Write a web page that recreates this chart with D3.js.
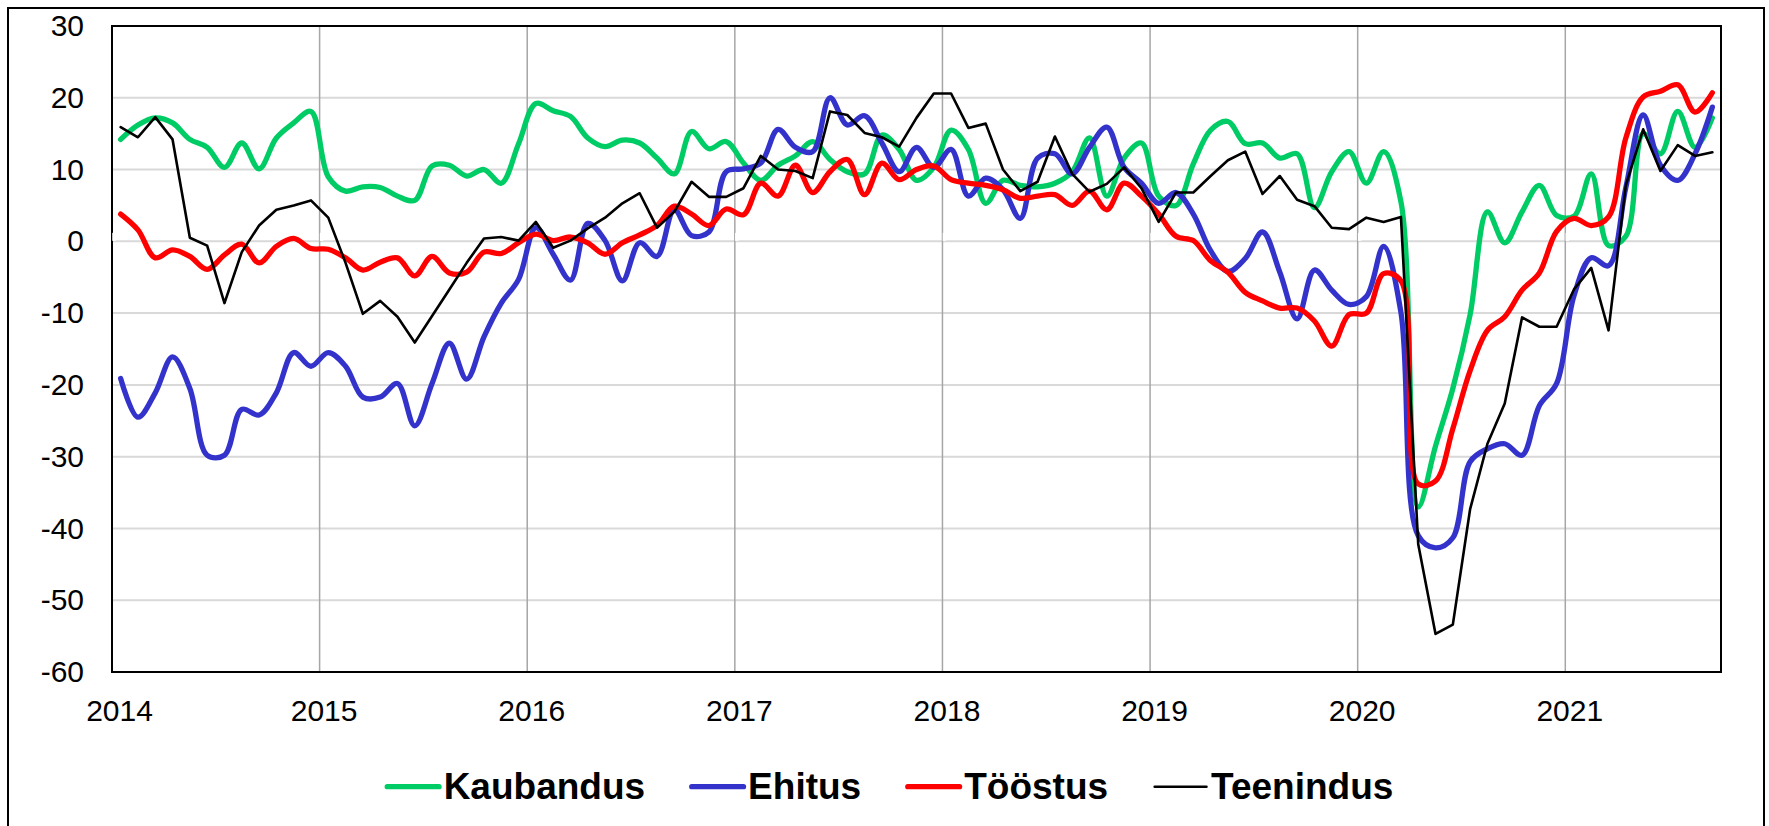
<!DOCTYPE html>
<html>
<head>
<meta charset="utf-8">
<script src="https://cdn.jsdelivr.net/npm/d3@7"></script>
<style>
body{margin:0;background:#fff;}
svg{display:block;font-family:Arial,"Liberation Sans",sans-serif;}
</style>
</head>
<body>
<svg id="chart"></svg>
<script>
// monthly values, Jan 2014 .. Sep 2021
var startYear = 2014;
var yearTicks = [2014,2015,2016,2017,2018,2019,2020,2021];
var yTicks = [30,20,10,0,-10,-20,-30,-40,-50,-60];
var seriesNames = ["Kaubandus","Ehitus","Tööstus","Teenindus"];
var seriesColors = ["#00cc66","#3333cc","#ff0000","#000000"];

var kaubandus = [14.2,16.2,17.2,16.5,14.2,13.1,10.3,13.7,10.1,14.4,16.5,18.1,
  9.0,7.0,7.6,7.5,6.3,5.7,10.5,10.6,9.1,10.0,8.1,13.6,
  19.2,18.2,17.4,14.4,13.2,14.1,13.7,11.6,9.4,15.3,12.9,13.9,
  10.9,8.5,10.6,11.9,13.9,11.4,9.7,9.4,14.8,12.8,8.5,10.3,
  15.5,12.8,5.3,8.5,7.8,7.6,8.1,9.7,14.4,6.3,11.6,13.7,
  6.3,5.0,10.8,15.5,16.7,13.6,13.7,11.6,12.2,4.7,9.7,12.5,
  8.1,12.5,5.5,-37.0,-28.5,-20.5,-10.2,4.1,-0.2,4.1,7.8,3.6,
  3.5,9.4,-0.6,0.7,15.0,12.2,18.1,13.1,17.2];

var ehitus = [-19.1,-24.5,-21.1,-16.1,-20.5,-29.8,-29.8,-23.4,-24.2,-21.1,-15.5,-17.4,
  -15.5,-17.4,-21.7,-21.7,-19.8,-25.7,-19.8,-14.2,-19.2,-13.3,-8.6,-5.3,
  1.9,-1.8,-5.4,2.5,0.1,-5.5,-0.2,-2.1,4.4,0.8,1.3,9.7,
  10.1,10.9,15.6,13.1,12.5,20.0,16.2,17.5,13.7,9.7,13.1,10.3,
  12.8,6.3,8.8,7.2,3.2,11.6,12.2,9.4,13.1,15.9,10.3,8.1,
  5.3,6.8,3.8,-1.3,-4.2,-2.4,1.3,-4.3,-10.8,-4.0,-6.8,-8.8,
  -7.7,-0.7,-9.9,-41.0,-42.7,-41.3,-30.7,-28.9,-28.2,-29.8,-22.9,-19.8,
  -7.6,-2.3,-3.4,7.5,17.6,10.6,8.5,12.2,18.7];

var toostus = [3.8,1.6,-2.3,-1.2,-2.1,-3.9,-1.9,-0.4,-3.0,-0.7,0.4,-1.0,
  -1.1,-2.3,-4.0,-2.9,-2.3,-4.8,-2.1,-4.4,-4.3,-1.5,-1.7,-0.2,
  1.0,0.1,0.6,-0.2,-1.8,-0.2,0.9,2.2,4.9,3.8,2.2,4.5,
  3.7,8.1,6.3,10.6,6.8,9.7,11.4,6.5,10.9,8.6,10.0,10.5,
  8.6,8.1,7.8,7.2,6.0,6.3,6.5,5.0,7.0,4.4,8.1,6.3,
  3.8,0.7,0.1,-2.7,-4.3,-7.1,-8.3,-9.3,-9.3,-11.1,-14.6,-10.2,
  -10.0,-4.5,-5.5,-33.8,-33.4,-26.1,-18.0,-12.4,-10.5,-6.8,-4.4,1.4,
  3.2,2.2,3.4,14.4,20.1,20.9,21.8,18.0,20.7];

var teenindus = [15.9,14.5,17.3,14.2,0.5,-0.6,-8.6,-1.5,2.2,4.4,5.0,5.7,
  3.3,-3.0,-10.1,-8.3,-10.5,-14.1,-10.4,-6.7,-3.0,0.4,0.6,0.1,
  2.7,-0.9,0.1,1.8,3.3,5.3,6.7,1.9,4.1,8.3,6.2,6.2,
  7.4,11.9,10.0,9.8,8.8,18.1,17.6,15.1,14.5,13.2,17.2,20.6,
  20.6,15.8,16.4,10.0,7.0,8.3,14.6,9.4,6.9,8.0,10.3,7.4,
  2.7,6.8,6.8,9.1,11.3,12.5,6.6,9.1,5.8,4.9,1.9,1.7,
  3.3,2.7,3.4,-42.2,-54.7,-53.4,-37.3,-28.2,-22.6,-10.6,-11.9,-11.9,
  -6.7,-3.7,-12.4,7.8,15.6,9.8,13.4,11.9,12.4];

var drawChart = function()
{
    var screen = {width:1769,height:826};
    var plot = {left:112,right:1721,top:26,bottom:672};

    var svg = d3.select("#chart")
        .attr("width",screen.width)
        .attr("height",screen.height);

    // outer frame (bottom edge sits below the picture)
    svg.append("rect")
        .attr("x",8).attr("y",8)
        .attr("width",1756).attr("height",830)
        .attr("fill","none")
        .attr("stroke","#000")
        .attr("stroke-width",2);

    var x = d3.scaleLinear()
        .domain([startYear,2021.75])
        .range([plot.left,plot.right]);

    var y = d3.scaleLinear()
        .domain([-60,30])
        .range([plot.bottom,plot.top]);

    var monthX = function(d,i){ return x(startYear + (i+0.5)/12); };

    //grid
    svg.append("g")
        .selectAll("line")
        .data(yTicks.slice(1,-1))
        .enter()
        .append("line")
        .attr("x1",plot.left).attr("x2",plot.right)
        .attr("y1",function(d){return y(d);})
        .attr("y2",function(d){return y(d);})
        .attr("stroke","#d9d9d9")
        .attr("stroke-width",2);

    svg.append("g")
        .selectAll("line")
        .data(yearTicks.slice(1))
        .enter()
        .append("line")
        .attr("x1",function(d){return x(d);})
        .attr("x2",function(d){return x(d);})
        .attr("y1",plot.top).attr("y2",plot.bottom)
        .attr("stroke","#a6a6a6")
        .attr("stroke-width",1.5);

    svg.append("rect")
        .attr("x",plot.left).attr("y",plot.top)
        .attr("width",plot.right-plot.left)
        .attr("height",plot.bottom-plot.top)
        .attr("fill","none")
        .attr("stroke","#000")
        .attr("stroke-width",2);

    // white tick marks of the axis crossing at zero
    var zeroAxis = svg.append("g")
        .attr("transform","translate(1.5,"+(y(0)-0.5)+")")
        .call(d3.axisBottom(x).tickValues(yearTicks).tickSize(-8).tickFormat(""));
    zeroAxis.select(".domain").remove();
    zeroAxis.selectAll("line").attr("stroke","#fff").attr("stroke-width",3.5);

    //axes labels
    var yAxis = svg.append("g")
        .attr("transform","translate("+plot.left+",0)")
        .call(d3.axisLeft(y).tickValues(yTicks).tickSize(0).tickPadding(28)
              .tickFormat(function(d){return String(d);}));
    yAxis.select(".domain").remove();
    yAxis.selectAll("text")
        .attr("font-size","30px")
        .attr("font-family","Arial, 'Liberation Sans', sans-serif")
        .attr("fill","#000");

    var xAxis = svg.append("g")
        .attr("transform","translate(0,"+plot.bottom+")")
        .call(d3.axisBottom(x).tickValues(yearTicks).tickSize(0).tickPadding(28)
              .tickFormat(function(d){return String(d);}));
    xAxis.select(".domain").remove();
    xAxis.selectAll("text")
        .attr("dx",function(d){ return d==startYear ? 7 : 4; })
        .attr("font-size","30px")
        .attr("font-family","Arial, 'Liberation Sans', sans-serif")
        .attr("fill","#000");

    //lines
    var allSeries = [kaubandus,ehitus,toostus,teenindus];

    var smoothLine = d3.line()
        .x(monthX)
        .y(function(d){return y(d);})
        .curve(d3.curveCatmullRom.alpha(0.5));

    var straightLine = d3.line()
        .x(monthX)
        .y(function(d){return y(d);});

    svg.append("g")
        .selectAll("path")
        .data(allSeries)
        .enter()
        .append("path")
        .attr("d",function(d,i){ return i==3 ? straightLine(d) : smoothLine(d); })
        .attr("fill","none")
        .attr("stroke",function(d,i){return seriesColors[i];})
        .attr("stroke-width",function(d,i){return i==3 ? 2.6 : 5.3;})
        .attr("stroke-linejoin","round")
        .attr("stroke-linecap","round");

    //legend
    var legend = svg.append("g");
    var items = legend.selectAll("g")
        .data(seriesNames)
        .enter()
        .append("g");

    items.append("line")
        .attr("x1",2.6).attr("x2",54.4)
        .attr("y1",786.7).attr("y2",786.7)
        .attr("stroke",function(d,i){return seriesColors[i];})
        .attr("stroke-width",function(d,i){return i==3 ? 2.6 : 5.3;})
        .attr("stroke-linecap","round");

    items.append("text")
        .attr("x",59)
        .attr("y",798.5)
        .attr("font-size","37px")
        .attr("font-weight","bold")
        .attr("fill","#000")
        .text(function(d){return d;});

    var pos = 0;
    var starts = [];
    items.each(function()
    {
        starts.push(pos);
        var len = d3.select(this).select("text").node().getComputedTextLength();
        pos = pos + 59 + len + 44;
    });
    var total = pos - 44;
    var left = 889 - total/2;
    items.attr("transform",function(d,i){return "translate("+(left+starts[i])+",0)";});
};

drawChart();
</script>
</body>
</html>
